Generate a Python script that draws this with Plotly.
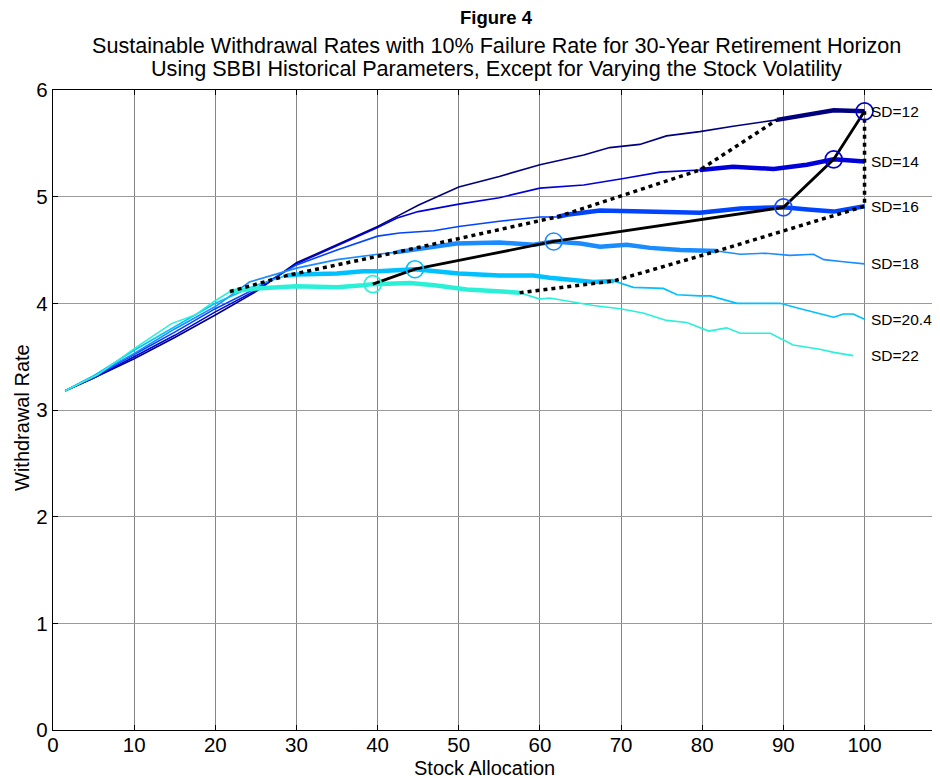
import numpy as np
import plotly.graph_objects as go

# ---------------- data ----------------
sd_labels = ["SD=12", "SD=14", "SD=16", "SD=18", "SD=20.4", "SD=22"]

sd12_x = [1.5, 5, 10, 15, 20, 25, 30, 35, 40, 42.5, 45, 50, 55, 60, 65.4, 68.6, 72.3, 75.6, 79.7, 83.8, 89.2, 92.9, 96.2, 100]
sd12_y = [3.18, 3.30, 3.48, 3.68, 3.89, 4.11, 4.38, 4.55, 4.72, 4.82, 4.92, 5.09, 5.19, 5.30, 5.39, 5.46, 5.49, 5.57, 5.61, 5.66, 5.72, 5.77, 5.81, 5.80]

sd14_x = [1.5, 5, 10, 15, 20, 25, 30, 35, 40, 42.4, 45, 50, 55, 60, 65.4, 70.3, 74.8, 79.7, 83.8, 88.8, 92.9, 96.2, 100]
sd14_y = [3.18, 3.30, 3.50, 3.70, 3.92, 4.12, 4.37, 4.54, 4.71, 4.80, 4.86, 4.93, 4.99, 5.08, 5.11, 5.17, 5.23, 5.25, 5.28, 5.26, 5.30, 5.35, 5.33]

sd16_x = [1.5, 5, 10, 15, 20, 25, 30, 35, 40, 42.7, 46.9, 50, 55, 60, 62.1, 63.3, 67.4, 71.5, 75.6, 79.7, 84.7, 90, 93, 96.2, 100]
sd16_y = [3.18, 3.31, 3.52, 3.73, 3.95, 4.14, 4.36, 4.50, 4.63, 4.66, 4.68, 4.72, 4.77, 4.81, 4.81, 4.83, 4.87, 4.86, 4.86, 4.85, 4.89, 4.90, 4.88, 4.86, 4.91]

sd18_x = [1.5, 5, 10, 15, 20, 24.2, 30, 35, 40, 42.4, 45, 49.7, 55, 59.2, 61.7, 65, 67.4, 70.7, 73.6, 77.3, 81.8, 84.7, 87.8, 90.8, 93.7, 95, 97.4, 100]
sd18_y = [3.18, 3.32, 3.53, 3.76, 3.97, 4.20, 4.33, 4.41, 4.46, 4.48, 4.51, 4.56, 4.57, 4.55, 4.58, 4.56, 4.53, 4.55, 4.52, 4.50, 4.49, 4.46, 4.47, 4.45, 4.46, 4.41, 4.39, 4.37]

sd204_x = [1.5, 5, 10, 15, 20, 25, 28.8, 30, 35, 38.2, 40, 44.6, 50, 55, 59.2, 61.2, 66.6, 69.1, 71.5, 75.2, 76.9, 79.7, 81, 84.3, 89.6, 92.1, 96.2, 97.4, 98.6, 100]
sd204_y = [3.18, 3.32, 3.56, 3.78, 4.00, 4.17, 4.26, 4.27, 4.28, 4.30, 4.30, 4.32, 4.28, 4.26, 4.26, 4.24, 4.20, 4.21, 4.15, 4.14, 4.08, 4.07, 4.07, 4.00, 4.00, 3.95, 3.87, 3.90, 3.90, 3.85]

sd22_x = [1.5, 5.5, 10.1, 14.6, 17.5, 19.9, 21.8, 25, 30, 35, 38.2, 39.4, 44, 47, 51, 55, 57.5, 60, 61.2, 66.6, 69.9, 72.7, 75.6, 78.1, 80.8, 83, 84.7, 88.4, 91.2, 94.5, 96.2, 98.6]
sd22_y = [3.18, 3.33, 3.58, 3.81, 3.89, 4.02, 4.11, 4.14, 4.16, 4.15, 4.17, 4.18, 4.19, 4.17, 4.13, 4.11, 4.10, 4.04, 4.05, 3.98, 3.95, 3.91, 3.84, 3.82, 3.74, 3.77, 3.72, 3.72, 3.61, 3.57, 3.54, 3.51]

# efficient allocation range (start, end) for each volatility, and optimum allocation
range_start = [89.2, 79.7, 62.1, 42.4, 28.8, 21.8]
range_end = [100, 100, 100, 81.8, 69.1, 57.5]
optimum_x = [100, 96.2, 90, 61.7, 44.6, 39.4]

x_ticks = [0, 10, 20, 30, 40, 50, 60, 70, 80, 90, 100]
y_ticks = [0, 1, 2, 3, 4, 5, 6]

# ---------------- styling ----------------
colors = ["#00007f", "#0000d8", "#0044ff", "#1a8cff", "#00c0ff", "#2af0d8"]
circle_colors = ["#0000c8", "#0000d8", "#1a4cff", "#1a8cff", "#00c0ff", "#2af0d8"]
series = [(sd12_x, sd12_y), (sd14_x, sd14_y), (sd16_x, sd16_y),
          (sd18_x, sd18_y), (sd204_x, sd204_y), (sd22_x, sd22_y)]

fig = go.Figure()

# thin full curves
for (xs, ys), c in zip(series, colors):
    fig.add_trace(go.Scatter(x=xs, y=ys, mode="lines", line=dict(color=c, width=1.6),
                             showlegend=False, hoverinfo="skip"))

# thick efficient segments
for (xs, ys), c, s, e in zip(series, colors, range_start, range_end):
    xa = np.array(xs); ya = np.array(ys)
    m = (xa >= s - 1e-9) & (xa <= e + 1e-9)
    fig.add_trace(go.Scatter(x=xa[m], y=ya[m], mode="lines", line=dict(color=c, width=4.5),
                             showlegend=False, hoverinfo="skip"))

# dotted boundaries
up_x = list(range_start)[::-1]
up_y = [float(np.interp(s, xs, ys)) for (xs, ys), s in zip(series, range_start)][::-1]
fig.add_trace(go.Scatter(x=up_x, y=up_y, mode="lines",
                         line=dict(color="black", width=3.5, dash="4px,4px"),
                         showlegend=False, hoverinfo="skip"))
lo_x = list(range_end)[::-1]
lo_y = [float(np.interp(e, xs, ys)) for (xs, ys), e in zip(series, range_end)][::-1]
fig.add_trace(go.Scatter(x=lo_x, y=lo_y, mode="lines",
                         line=dict(color="black", width=3.5, dash="4px,4px"),
                         showlegend=False, hoverinfo="skip"))

# optimum line
opt_y = [float(np.interp(o, xs, ys)) for (xs, ys), o in zip(series, optimum_x)]
fig.add_trace(go.Scatter(x=optimum_x[::-1], y=opt_y[::-1], mode="lines",
                         line=dict(color="black", width=2.8),
                         showlegend=False, hoverinfo="skip"))
fig.add_trace(go.Scatter(x=optimum_x, y=opt_y, mode="markers",
                         marker=dict(symbol="circle-open", size=17, color=circle_colors,
                                     line=dict(width=1.6, color=circle_colors)),
                         showlegend=False, hoverinfo="skip"))

# end labels
for (xs, ys), lab in zip(series, sd_labels):
    fig.add_annotation(x=100.5, y=ys[-1], text=lab, showarrow=False, xanchor="left",
                       yanchor="middle", font=dict(size=15.5, color="black"))

base_font = "Liberation Sans, Arial, sans-serif"
fig.add_annotation(xref="paper", yref="paper", x=0.5, y=1, yshift=73, text="<b>Figure 4</b>",
                   showarrow=False, yanchor="middle", font=dict(size=18.5, color="black"))
fig.add_annotation(xref="paper", yref="paper", x=0.5, y=1, yshift=45,
                   text="Sustainable Withdrawal Rates with 10% Failure Rate for 30-Year Retirement Horizon",
                   showarrow=False, yanchor="middle", font=dict(size=21.6, color="black"))
fig.add_annotation(xref="paper", yref="paper", x=0.5, y=1, yshift=22,
                   text="Using SBBI Historical Parameters, Except for Varying the Stock Volatility",
                   showarrow=False, yanchor="middle", font=dict(size=21.6, color="black"))
# axis titles
fig.add_annotation(xref="paper", yref="paper", x=0.487, y=0, yshift=-38, text="Stock Allocation",
                   showarrow=False, yanchor="middle", xanchor="center", font=dict(size=20, color="black"))
fig.add_annotation(xref="paper", yref="paper", x=0, y=0.5, xshift=-31, yshift=-8, text="Withdrawal Rate",
                   textangle=-90, showarrow=False, yanchor="middle", xanchor="center",
                   font=dict(size=20, color="black"))

# the page places the figure 8px from its top-left corner
fig.update_layout(
    width=932, height=770,
    margin=dict(l=45, r=0, t=82, b=48, autoexpand=False),
    paper_bgcolor="white", plot_bgcolor="white",
    font=dict(family=base_font, color="black", size=20),
    xaxis=dict(range=[0, 109.3], tickvals=x_ticks, showgrid=True, gridcolor="#858585", gridwidth=1,
               zeroline=False, showline=True, linecolor="black", linewidth=1.3, mirror="ticks",
               ticks="inside", ticklen=5, tickcolor="black", automargin=False,
               ticklabelstandoff=-4, tickfont=dict(size=20.5)),
    yaxis=dict(range=[0, 6], tickvals=y_ticks, showgrid=True, gridcolor="#9a9a9a", gridwidth=1,
               zeroline=False, showline=True, linecolor="black", linewidth=1.3,
               ticks="inside", ticklen=5, tickcolor="black", automargin=False,
               tickfont=dict(size=20.5)),
)

fig.write_html("out.html")
